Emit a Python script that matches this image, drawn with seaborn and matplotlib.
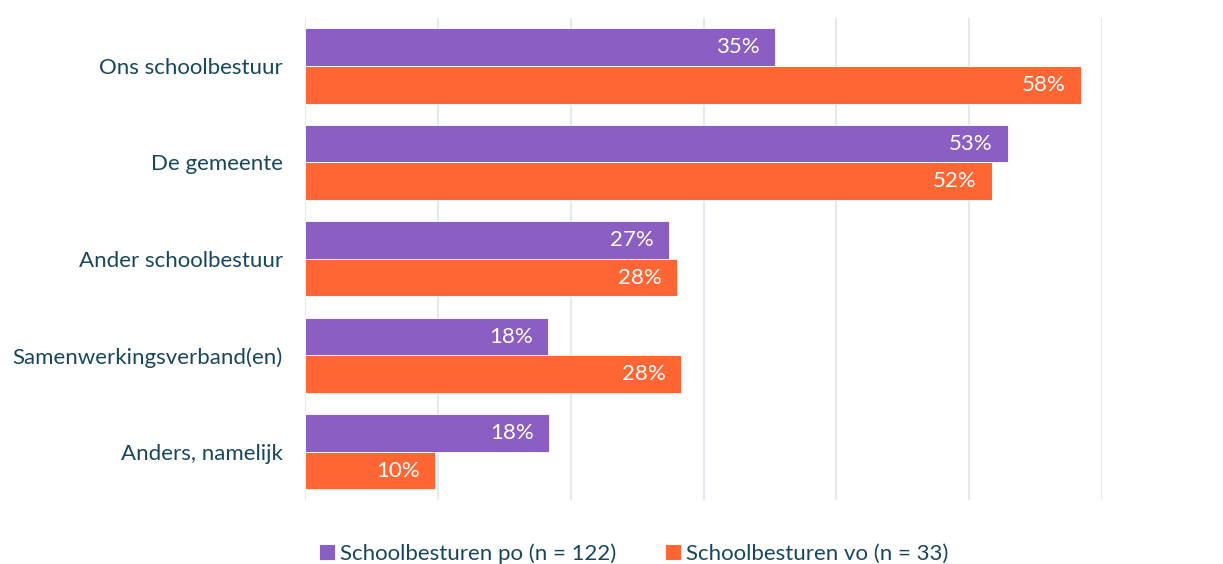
import matplotlib
matplotlib.use("Agg")
import matplotlib.pyplot as plt
import seaborn as sns
import pandas as pd

categories = ["Ons schoolbestuur", "De gemeente", "Ander schoolbestuur",
              "Samenwerkingsverband(en)", "Anders, namelijk"]
series_names = ["Schoolbesturen po (n = 122)", "Schoolbesturen vo (n = 33)"]
po_values = [35.4, 52.9, 27.4, 18.3, 18.4]
vo_values = [58.4, 51.7, 28.0, 28.3, 9.8]
colors = ["#8A5EC3", "#FF6633"]
text_color = "#17475F"

sns.set_theme(style="white")
plt.rcParams["font.family"] = ["Lato", "DejaVu Sans"]

df = pd.DataFrame({
    "categorie": categories * 2,
    "waarde": po_values + vo_values,
    "reeks": [series_names[0]] * len(categories) + [series_names[1]] * len(categories),
})

fig = plt.figure(figsize=(12.23, 5.64), dpi=100)
ax = fig.add_axes([0.2494, 0.1135, 0.6517, 0.855])

sns.barplot(data=df, y="categorie", x="waarde", hue="reeks", orient="h",
            palette=colors, saturation=1, width=0.78, gap=0, ax=ax,
            errorbar=None, edgecolor="white", linewidth=0.6, zorder=3)

ax.set_xlim(0, 60)
ax.set_ylim(4.5, -0.5)
ax.set_xticks(range(0, 61, 10))
ax.set_xticklabels([])
ax.tick_params(axis="x", length=0)
ax.tick_params(axis="y", length=0, pad=16, labelsize=16, labelcolor=text_color)
ax.grid(axis="x", color="#E3E9EE", linewidth=1.5, zorder=0)
ax.set_axisbelow(True)
ax.set_xlabel("")
ax.set_ylabel("")
for s in ax.spines.values():
    s.set_visible(False)

for container in ax.containers:
    labels = [f"{round(v)}%" for v in container.datavalues]
    texts = ax.bar_label(container, labels=labels, label_type="edge",
                         padding=-11, color="white", fontsize=16)
    for t in texts:
        t.set_ha("right")

handles, labs = ax.get_legend_handles_labels()
ax.legend_.remove()
fig.legend(handles, labs, loc="center", bbox_to_anchor=(634 / 1223, 0.019),
           ncol=2, frameon=False, fontsize=16, handlelength=0.7,
           handleheight=0.7, handletextpad=0.25, columnspacing=2.2,
           labelcolor=text_color, borderpad=0)

fig.savefig("out.png", dpi=100)
